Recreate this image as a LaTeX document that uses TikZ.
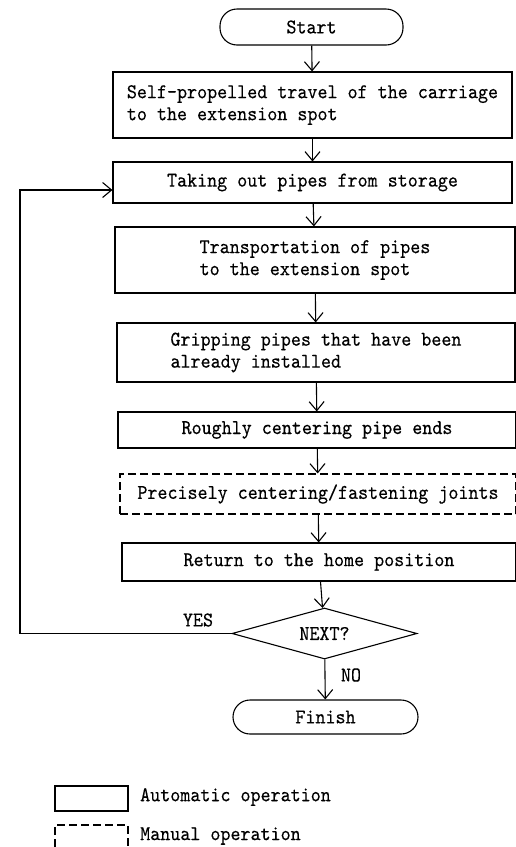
\documentclass[tikz,border=0pt]{standalone}
\usepackage{fontspec}
\newfontfamily\dotfont{lmmono10-regular.otf}[FakeStretch=0.91,FakeBold=0.3]
\usetikzlibrary{arrows.meta,shapes.geometric}
\begin{document}
\begin{tikzpicture}[x=1pt,y=-1pt,
  every node/.style={font=\fontsize{21}{22}\selectfont\dotfont},
  line/.style={line width=1.1pt},
  arr/.style={line, -{Straight Barb[length=9pt,width=15pt,line width=1.1pt]}},
  terminal/.style={draw, line width=1.1pt, rounded corners=17pt, inner sep=0pt},
  auto box/.style={draw, line width=1.1pt, inner sep=0pt, align=left},
  manual box/.style={auto box, dash pattern=on 8pt off 4pt},
  decision/.style={draw, line width=1.1pt, diamond, aspect=3.6, inner sep=0pt},
  lbl/.style={inner sep=0pt}
]
\useasboundingbox (0,0) rectangle (516,847);
\fill[white] (0,0) rectangle (516,847);

\node[terminal, minimum width=183pt, minimum height=36pt] (start) at (311.5,27) {Start};
\node[auto box, minimum width=399pt, minimum height=66pt] (b1) at (312.5,105)
  {Self-propelled travel of the carriage\\to the extension spot};
\node[auto box, minimum width=399pt, minimum height=41pt] (b2) at (312.5,182.5)
  {Taking out pipes from storage};
\node[auto box, minimum width=400pt, minimum height=66pt] (b3) at (315,260)
  {Transportation of pipes\\to the extension spot};
\node[auto box, minimum width=398pt, minimum height=59pt] (b4) at (316,352.5)
  {Gripping pipes that have been\\already installed};
\node[auto box, minimum width=398pt, minimum height=36pt] (b5) at (317,430)
  {Roughly centering pipe ends};
\node[manual box, minimum width=396pt, minimum height=40pt] (b6) at (318,494)
  {Precisely centering/fastening joints};
\node[auto box, minimum width=394pt, minimum height=38pt] (b7) at (319,562)
  {Return to the home position};
\node[decision, minimum width=185pt, minimum height=51pt] (dec) at (324.5,633.5) {NEXT?};
\node[terminal, minimum width=185pt, minimum height=34pt] (finish) at (325.5,717) {Finish};

\node[lbl] (yes) at (198,620) {YES};
\node[lbl] (no) at (351,675) {NO};

\draw[arr] (start) -- (b1);
\draw[arr] (b1) -- (b2);
\draw[arr] (b2) -- (b3);
\draw[arr] (b3) -- (b4);
\draw[arr] (b4) -- (b5);
\draw[arr] (b5) -- (b6);
\draw[arr] (b6) -- (b7);
\draw[arr] (b7) -- (dec);
\draw[arr] (dec) -- (finish);
\coordinate (loop) at (20,0);
\coordinate (b2in) at ([yshift=-7.5pt]b2.west);
\draw[arr] (dec.west) -- (loop |- dec.west) -- (loop |- b2in) -- (b2in);

% legend
\node[draw, line width=1.1pt, minimum width=73pt, minimum height=25pt, inner sep=0pt] (la) at (91.5,798.5) {};
\node[lbl, anchor=west] (lat) at (140,797) {Automatic operation};
\coordinate (lm1) at (55,847);
\coordinate (lm2) at (128,847);
\draw[line, dash pattern=on 8pt off 4pt] (lm1) -- (55,825) -- (128,825) -- (lm2);
\node[lbl, anchor=west] (lmt) at (140,836) {Manual operation};
\end{tikzpicture}
\end{document}
